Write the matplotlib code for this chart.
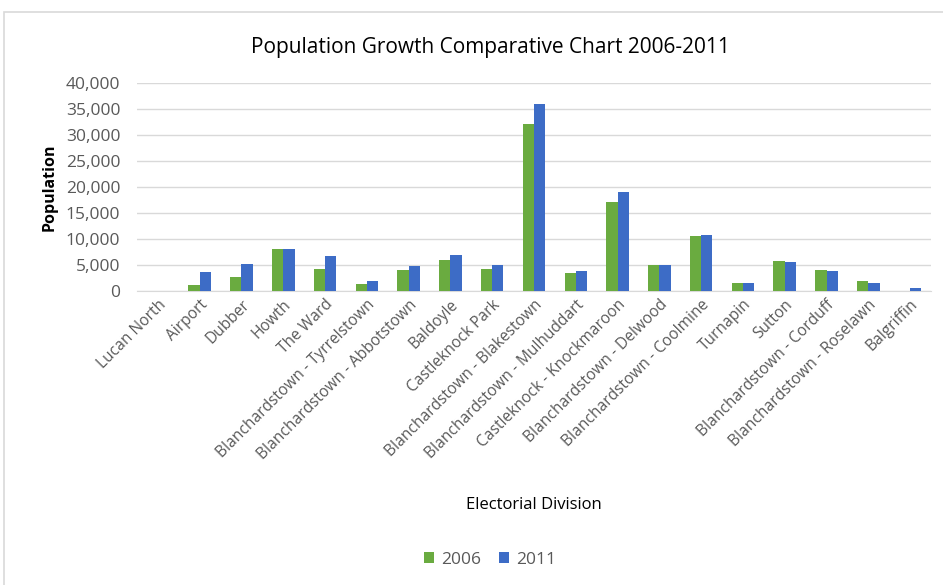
import matplotlib
matplotlib.use("Agg")
import matplotlib.pyplot as plt
import numpy as np
from matplotlib.ticker import FuncFormatter
from matplotlib.patches import Rectangle

categories = ["Lucan North", "Airport", "Dubber", "Howth", "The Ward",
              "Blanchardstown - Tyrrelstown", "Blanchardstown - Abbotstown",
              "Baldoyle", "Castleknock Park", "Blanchardstown - Blakestown",
              "Blanchardstown - Mulhuddart", "Castleknock - Knockmaroon",
              "Blanchardstown - Delwood", "Blanchardstown - Coolmine",
              "Turnapin", "Sutton", "Blanchardstown - Corduff",
              "Blanchardstown - Roselawn", "Balgriffin"]
pop_2006 = [40, 1150, 2760, 8010, 4170, 1410, 3970, 5900, 4170, 32120,
            3400, 17050, 4940, 10640, 1600, 5700, 3970, 1860, 0]
pop_2011 = [60, 3600, 5130, 8010, 6730, 1990, 4740, 6860, 4940, 35900,
            3780, 19040, 4940, 10830, 1600, 5510, 3780, 1600, 640]
y_ticks = [0, 5000, 10000, 15000, 20000, 25000, 30000, 35000, 40000]

plt.rcParams['font.family'] = ['Open Sans', 'DejaVu Sans']
fig = plt.figure(figsize=(9.43, 5.85), dpi=100)
ax = fig.add_axes([137/943, 1-291/585, (931-137)/943, (291-83)/585])

x = np.arange(len(categories))
w = 0.27
c06 = "#6aab40"
c11 = "#3d6cc6"
ax.bar(x - w/2, pop_2006, width=w, color=c06, label="2006", zorder=3)
ax.bar(x + w/2, pop_2011, width=w, color=c11, label="2011", zorder=3)

ax.set_xlim(-0.5, len(categories) - 0.5)
ax.set_ylim(0, 40000)
ax.set_yticks(y_ticks)
ax.yaxis.set_major_formatter(FuncFormatter(lambda v, p: f"{int(v):,}"))
ax.grid(axis='y', color="#d9d9d9", linewidth=1, zorder=0)
for s in ['top', 'right', 'left']:
    ax.spines[s].set_visible(False)
ax.spines['bottom'].set_color("#d9d9d9")
ax.tick_params(axis='both', length=0, colors="#595959")
ax.tick_params(axis='y', pad=12, labelsize=12.5)
ax.tick_params(axis='x', labelsize=11.2, pad=4)
ax.set_xticks(x)
ax.set_xticklabels(categories, rotation=45, ha='right', rotation_mode='anchor')

ax.set_ylabel("Population", fontsize=11.5, fontweight='bold', color="black", labelpad=6)
ax.set_xlabel("Electorial Division", fontsize=12, color="black", labelpad=25)
fig.text(490/943, 1-47/585, "Population Growth Comparative Chart 2006-2011",
         ha='center', va='center', fontsize=15, color="black")

leg = fig.legend(loc='center', bbox_to_anchor=(490/943, 1-560/585), ncol=2,
                 frameon=False, fontsize=12.5, handlelength=0.6, handleheight=0.6,
                 columnspacing=1.0, handletextpad=0.4, labelcolor="#595959")

# outer chart border
fig.add_artist(Rectangle((4/943, -0.05), 1.2, 1 - 12/585 + 0.05, transform=fig.transFigure,
                         fill=False, edgecolor="#d9d9d9", linewidth=1.2))

fig.savefig("out.png", dpi=100)
